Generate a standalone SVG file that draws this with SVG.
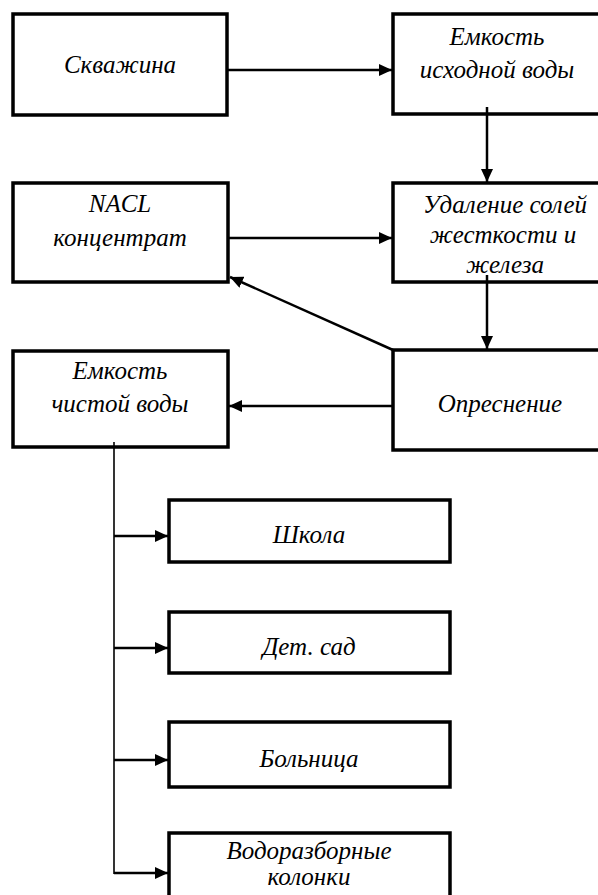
<svg xmlns="http://www.w3.org/2000/svg" width="598" height="895" viewBox="0 0 598 895">
<style>
.box{fill:#fff;stroke:#000;stroke-width:3.5}
.t{font-family:"Liberation Serif","Times New Roman",serif;font-style:italic;font-size:25px;fill:#000;text-anchor:middle}
.c{stroke:#000;stroke-width:2.5;fill:none}
.thin{stroke:#000;stroke-width:1.6;fill:none}
</style>
<defs>
<marker id="ah" markerWidth="13" markerHeight="12" viewBox="0 0 13 12" refX="13" refY="6" orient="auto" markerUnits="userSpaceOnUse">
<path d="M0,0 L13,6 L0,12 Z" fill="#000"/>
</marker>
</defs>
<rect width="598" height="895" fill="#fff"/>
<g id="n1"><rect class="box" x="13" y="14" width="214" height="101"/><text class="t" x="120" y="73">Скважина</text></g>
<g id="n2"><rect class="box" x="393" y="14" width="214" height="100"/><text class="t" x="497" y="45">Емкость</text><text class="t" x="497" y="78">исходной воды</text></g>
<g id="n3"><rect class="box" x="13" y="183" width="215" height="99"/><text class="t" x="120" y="212">NACL</text><text class="t" x="120" y="246">концентрат</text></g>
<g id="n4"><rect class="box" x="393" y="183" width="214" height="99"/><text class="t" x="505" y="213">Удаление солей</text><text class="t" x="503" y="243">жесткости и</text><text class="t" x="505" y="273">железа</text></g>
<g id="n5"><rect class="box" x="13" y="351" width="215" height="96"/><text class="t" x="120" y="379">Емкость</text><text class="t" x="120" y="412">чистой воды</text></g>
<g id="n6"><rect class="box" x="393" y="350" width="214" height="100"/><text class="t" x="500" y="412">Опреснение</text></g>
<g id="n7"><rect class="box" x="169" y="500" width="281" height="62"/><text class="t" x="309" y="543">Школа</text></g>
<g id="n8"><rect class="box" x="169" y="612" width="281" height="61"/><text class="t" x="309" y="655">Дет. сад</text></g>
<g id="n9"><rect class="box" x="169" y="722" width="281" height="65"/><text class="t" x="309" y="767">Больница</text></g>
<g id="n10"><rect class="box" x="169" y="833" width="281" height="80"/><text class="t" x="309" y="859">Водоразборные</text><text class="t" x="309" y="885">колонки</text></g>
<g id="connectors">
<line class="c" x1="228" y1="70" x2="392" y2="70" marker-end="url(#ah)"/>
<line class="c" x1="487" y1="107" x2="487" y2="182" marker-end="url(#ah)"/>
<line class="c" x1="229" y1="238" x2="392" y2="238" marker-end="url(#ah)"/>
<line class="c" x1="487" y1="275" x2="487" y2="349" marker-end="url(#ah)"/>
<line class="c" x1="393" y1="350" x2="230" y2="277" marker-end="url(#ah)"/>
<line class="c" x1="392" y1="406" x2="229" y2="406" marker-end="url(#ah)"/>
<line class="thin" x1="114" y1="442" x2="114" y2="874"/>
<line class="c" x1="114" y1="536" x2="168" y2="536" marker-end="url(#ah)"/>
<line class="c" x1="114" y1="648" x2="168" y2="648" marker-end="url(#ah)"/>
<line class="c" x1="114" y1="760" x2="168" y2="760" marker-end="url(#ah)"/>
<line class="c" x1="114" y1="873" x2="168" y2="873" marker-end="url(#ah)"/>
</g>
</svg>
